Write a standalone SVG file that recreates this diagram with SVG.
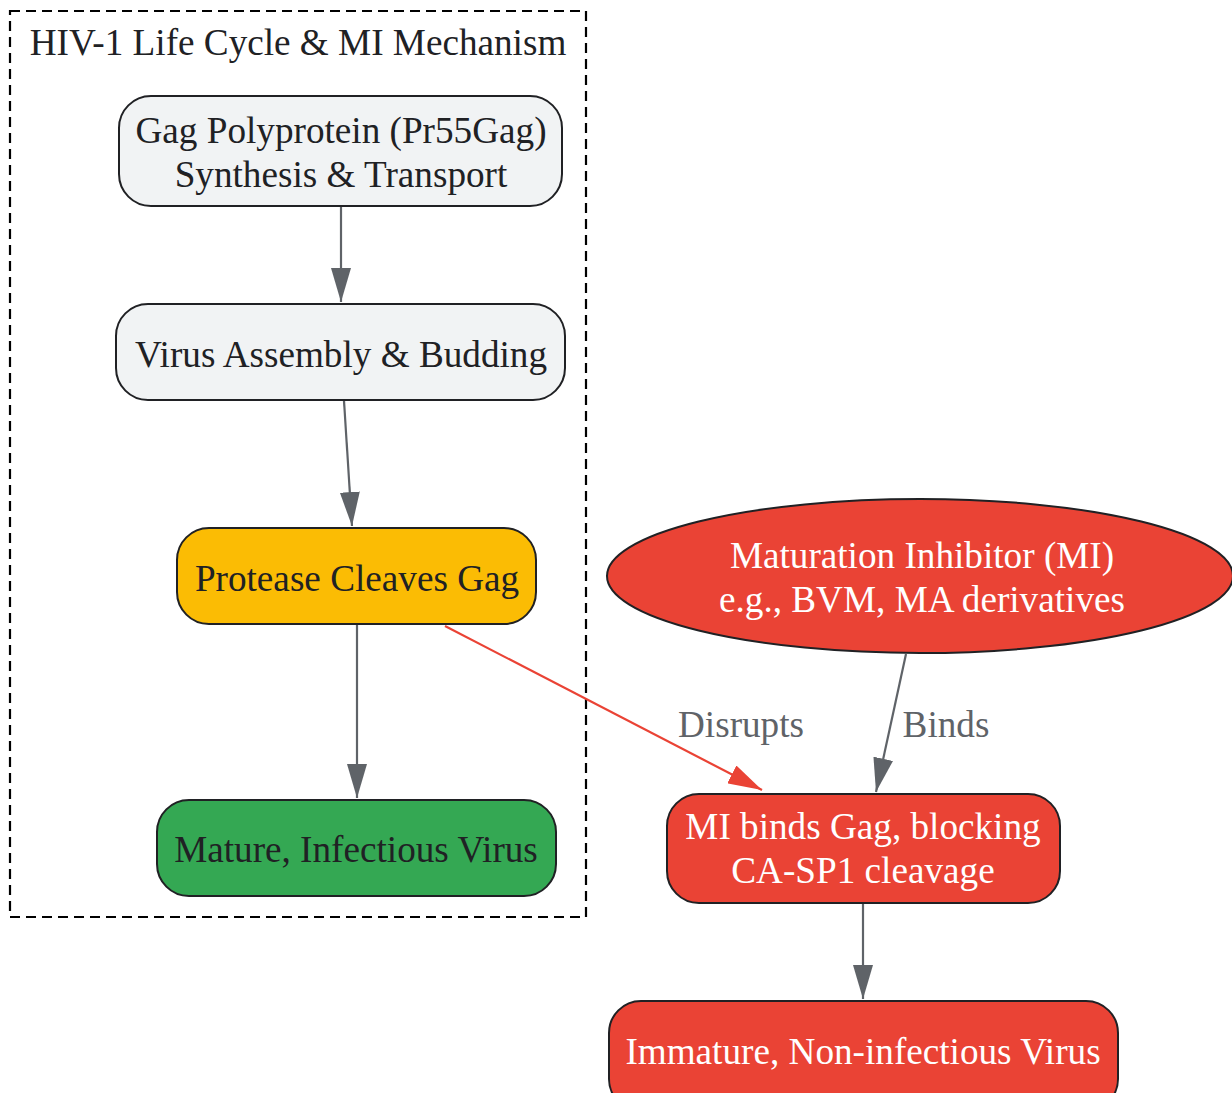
<svg xmlns="http://www.w3.org/2000/svg" width="1232" height="1093" viewBox="0 0 1232 1093">
<style>
text{font-family:"Liberation Serif","Times New Roman",serif;font-size:37.2px;text-anchor:middle}
.dark{fill:#202124}
.white{fill:#ffffff}
.lbl{fill:#5f6368}
.node{stroke:#202124;stroke-width:2}
.grey{fill:#f1f3f4}
.edge{fill:none;stroke:#5f6368;stroke-width:2.2}
.red{fill:none;stroke:#ea4335;stroke-width:2.2}
</style>
<defs>
<marker id="ag" viewBox="0 0 34 20" refX="34" refY="10" markerWidth="34" markerHeight="20" markerUnits="userSpaceOnUse" orient="auto"><path d="M0,0 L34,10 L0,20 z" fill="#5f6368"/></marker>
<marker id="ar" viewBox="0 0 34 20" refX="34" refY="10" markerWidth="34" markerHeight="20" markerUnits="userSpaceOnUse" orient="auto"><path d="M0,0 L34,10 L0,20 z" fill="#ea4335"/></marker>
</defs>
<rect width="1232" height="1093" fill="#ffffff"/>
<g id="cluster">
<rect x="10" y="11" width="576" height="906" fill="none" stroke="#000" stroke-width="2.2" stroke-dasharray="10,6"/>
<text x="298" y="55" class="dark">HIV-1 Life Cycle &amp; MI Mechanism</text>
</g>
<g id="connectors">
<line x1="341" y1="207" x2="341" y2="302" class="edge" marker-end="url(#ag)"/>
<line x1="344" y1="401" x2="352" y2="526" class="edge" marker-end="url(#ag)"/>
<line x1="357" y1="625" x2="357" y2="798" class="edge" marker-end="url(#ag)"/>
<line x1="445" y1="626" x2="762" y2="790" class="red" marker-end="url(#ar)"/>
<text x="741" y="737" class="lbl">Disrupts</text>
<line x1="906" y1="654" x2="876" y2="792" class="edge" marker-end="url(#ag)"/>
<text x="946" y="737" class="lbl">Binds</text>
<line x1="863" y1="904" x2="863" y2="999" class="edge" marker-end="url(#ag)"/>
</g>
<g id="gag">
<rect x="119" y="96" width="443" height="110" rx="32" class="node grey"/>
<text x="341" y="143" class="dark">Gag Polyprotein (Pr55Gag)</text>
<text x="341" y="187" class="dark">Synthesis &amp; Transport</text>
</g>
<g id="assembly">
<rect x="116" y="304" width="449" height="96" rx="32" class="node grey"/>
<text x="341" y="367" class="dark">Virus Assembly &amp; Budding</text>
</g>
<g id="protease">
<rect x="177" y="528" width="359" height="96" rx="32" class="node" fill="#fbbc04"/>
<text x="357" y="591" class="dark">Protease Cleaves Gag</text>
</g>
<g id="mature">
<rect x="157" y="800" width="399" height="96" rx="32" class="node" fill="#34a853"/>
<text x="356" y="862" class="dark">Mature, Infectious Virus</text>
</g>
<g id="inhibitor">
<ellipse cx="920" cy="576" rx="313" ry="77" class="node" fill="#ea4335"/>
<text x="922" y="568" class="white">Maturation Inhibitor (MI)</text>
<text x="922" y="612" class="white">e.g., BVM, MA derivatives</text>
</g>
<g id="mibinds">
<rect x="667" y="794" width="393" height="109" rx="32" class="node" fill="#ea4335"/>
<text x="863" y="839" class="white">MI binds Gag, blocking</text>
<text x="863" y="883" class="white">CA-SP1 cleavage</text>
</g>
<g id="immature">
<rect x="609" y="1001" width="509" height="110" rx="32" class="node" fill="#ea4335"/>
<text x="863" y="1064" class="white">Immature, Non-infectious Virus</text>
</g>
</svg>
